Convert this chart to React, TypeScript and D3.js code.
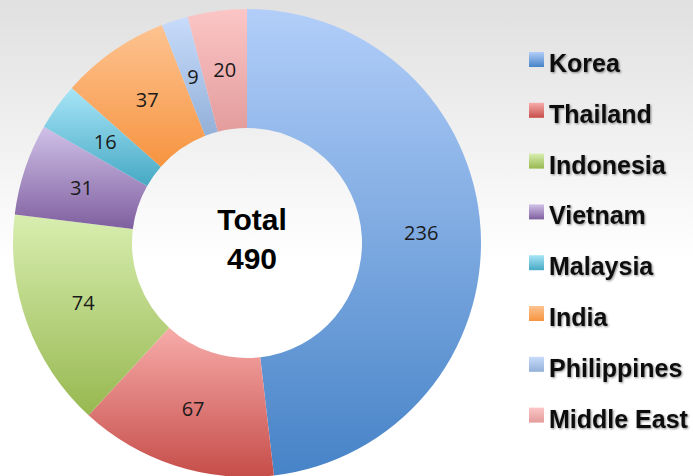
import { arc, pie } from 'd3'
import type { PieArcDatum } from 'd3'

// Donut of headcount by region, Excel-style: every slice gets its own light-to-dark
// vertical gradient, the total sits in the hole, and the legend is on the right.
const regions = ['Korea', 'Thailand', 'Indonesia', 'Vietnam', 'Malaysia', 'India', 'Philippines', 'Middle East']
const counts = [236, 67, 74, 31, 16, 37, 9, 20]
const totalLabel = ['Total', '490']

const TOP = ['#b2cef9', '#f7acaa', '#d8eeb0', '#d0c1e8', '#a8e5f7', '#fdc391', '#c8dcfb', '#fcc6c6']
const BOTTOM = ['#4683c7', '#c64d49', '#97b850', '#7f5f9f', '#46a9c4', '#f79440', '#93b0d8', '#e39c9c']

const W = 693
const H = 476
const cx = 247
const cy = 243
const rOuter = 234
const rInner = 115

export default function App() {
  const slices = pie<number>().sort(null).value((d) => d)(counts)
  const ring = arc<PieArcDatum<number>>().innerRadius(rInner).outerRadius(rOuter)

  return (
    <svg
      width={W}
      height={H}
      viewBox={`0 0 ${W} ${H}`}
      style={{ position: 'absolute', left: 0, top: 0 }}
      role="img"
      aria-label="donut chart of totals by region"
    >
      <defs>
        <linearGradient id="bg" x1="0" y1="0" x2="0" y2="1">
          <stop offset="0" stopColor="#e0e0e0" />
          <stop offset="0.55" stopColor="#ffffff" />
          <stop offset="1" stopColor="#ffffff" />
        </linearGradient>
        {regions.map((_, i) => (
          <linearGradient key={i} id={`g${i}`} x1="0" y1="0" x2="0" y2="1">
            <stop offset="0" stopColor={TOP[i]} />
            <stop offset="1" stopColor={BOTTOM[i]} />
          </linearGradient>
        ))}
        <filter id="shadow" x="-10%" y="-20%" width="120%" height="140%">
          <feDropShadow dx="1" dy="1" stdDeviation="0.8" floodColor="#000" floodOpacity="0.45" />
        </filter>
      </defs>
      <rect x={0} y={0} width={W} height={H} fill="url(#bg)" />

      <g transform={`translate(${cx},${cy})`}>
        {slices.map((s, i) => (
          <path key={regions[i]} d={ring(s) ?? ''} fill={`url(#g${i})`} />
        ))}
        {slices.map((s, i) => {
          const [lx, ly] = ring.centroid(s)
          return (
            <text
              key={`l${i}`}
              x={lx}
              y={ly}
              dy="0.36em"
              textAnchor="middle"
              fontFamily="'Open Sans', sans-serif"
              fontSize={20}
              fill="#1a1a1a"
            >
              {counts[i]}
            </text>
          )
        })}
        <text
          textAnchor="middle"
          fontFamily="'Liberation Sans', Arial, sans-serif"
          fontWeight="bold"
          fontSize={30}
          fill="#000"
        >
          <tspan x={5} y={-13}>{totalLabel[0]}</tspan>
          <tspan x={5} y={26}>{totalLabel[1]}</tspan>
        </text>
      </g>

      <g fontFamily="'Liberation Sans', Arial, sans-serif" fontWeight="bold" fontSize={25}>
        {regions.map((name, i) => {
          const base = 72 + i * 50.8
          return (
            <g key={name}>
              <rect x={529} y={base - 20} width={15} height={15} fill={`url(#g${i})`} />
              <text x={549} y={base} fill="#111" filter="url(#shadow)">
                {name}
              </text>
            </g>
          )
        })}
      </g>
    </svg>
  )
}
